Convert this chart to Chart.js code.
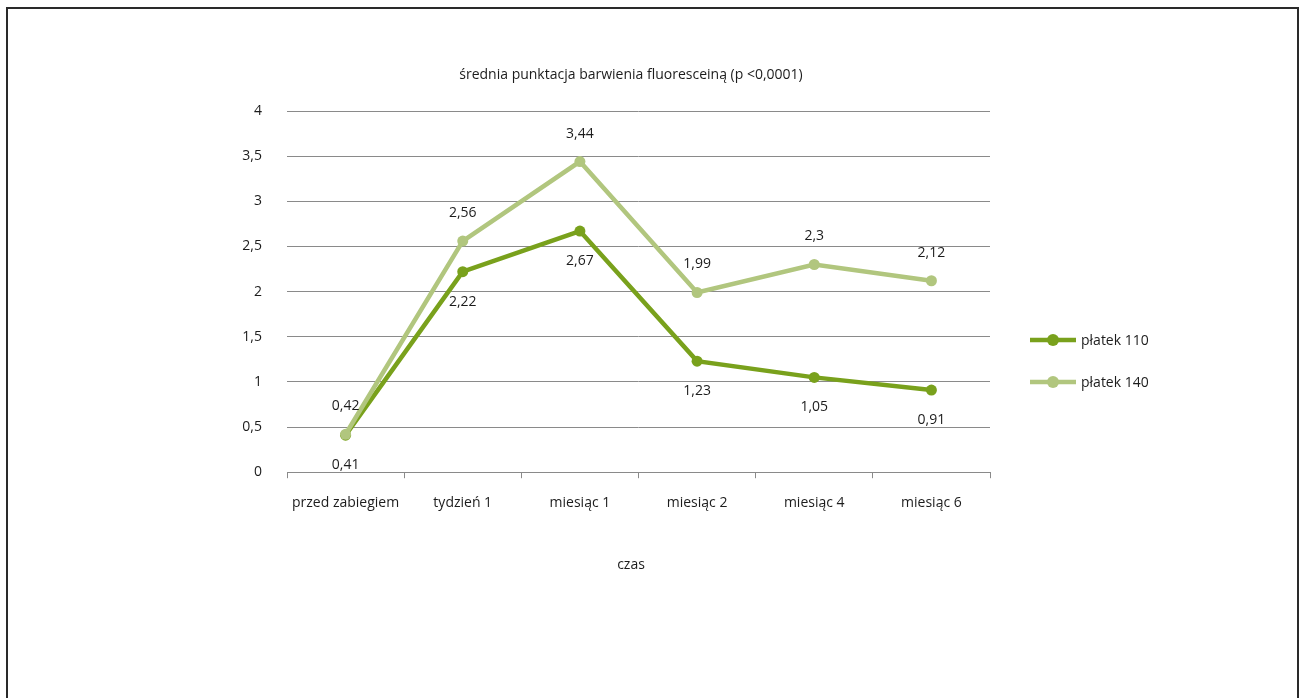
<!DOCTYPE html>
<html lang="pl">
<head>
<meta charset="utf-8">
<title>Punktacja barwienia fluoresceiną</title>
<script src="https://cdn.jsdelivr.net/npm/chart.js@4/dist/chart.umd.min.js"></script>
<style>
  html, body { margin: 0; padding: 0; background: #fff; }
  #wrap { position: relative; width: 1301px; height: 698px; }
</style>
</head>
<body>
<div id="wrap"><canvas id="fluoChart" width="1301" height="698"></canvas></div>
<script>
// dane
const categories = ["przed zabiegiem", "tydzień 1", "miesiąc 1", "miesiąc 2", "miesiąc 4", "miesiąc 6"];
const platek110 = [0.41, 2.22, 2.67, 1.23, 1.05, 0.91];
const platek140 = [0.42, 2.56, 3.44, 1.99, 2.3, 2.12];
const seriesNames = ["płatek 110", "płatek 140"];
const yTicks = [0, 0.5, 1, 1.5, 2, 2.5, 3, 3.5, 4];
const chartTitle = "średnia punktacja barwienia fluoresceiną (p <0,0001)";
const xTitle = "czas";

const darkGreen = "#79a11c";
const lightGreen = "#b1c67e";
const textColor = "#1c1c1c";
const fontFamily = "'Open Sans', 'DejaVu Sans', sans-serif";

function fmt(v) {
    return String(v).replace(".", ",");
}

// tytuły, wartości nad/pod punktami, legenda po prawej i ramka
const extras = {
    id: "extras",
    afterDatasetsDraw(chart) {
        let ctx = chart.ctx;
        ctx.save();
        ctx.font = "14px " + fontFamily;
        ctx.fillStyle = textColor;
        ctx.textAlign = "center";
        ctx.textBaseline = "middle";

        ctx.fillText(chartTitle, 631, 75);
        ctx.fillText(xTitle, 631, 565);

        chart.data.datasets.forEach((ds, i) => {
            let meta = chart.getDatasetMeta(i);
            meta.data.forEach((pt, j) => {
                let dy = ds.labelPos == "above" ? -28 : 30;
                ctx.fillText(fmt(ds.data[j]), pt.x, pt.y + dy);
            });
        });

        // legenda
        let lx = 1030, ly = 340;
        chart.data.datasets.forEach((ds, i) => {
            let y = ly + i * 42;
            ctx.strokeStyle = ds.borderColor;
            ctx.lineWidth = ds.borderWidth;
            ctx.beginPath();
            ctx.moveTo(lx, y);
            ctx.lineTo(lx + 46, y);
            ctx.stroke();
            ctx.fillStyle = ds.pointBackgroundColor;
            ctx.beginPath();
            ctx.arc(lx + 23, y, 6, 0, Math.PI * 2);
            ctx.fill();
            ctx.fillStyle = textColor;
            ctx.textAlign = "left";
            ctx.fillText(ds.label, lx + 51, y + 1);
        });

        // ramka
        ctx.strokeStyle = "#2a2a2a";
        ctx.lineWidth = 2;
        ctx.strokeRect(7, 8, 1291, 700);
        ctx.restore();
    }
};

let ctx = document.getElementById("fluoChart").getContext("2d");

new Chart(ctx, {
    type: "line",
    data: {
        labels: categories,
        datasets: [{
            label: seriesNames[0],
            data: platek110,
            labelPos: "below",
            borderColor: darkGreen,
            backgroundColor: darkGreen,
            pointBackgroundColor: darkGreen,
            pointBorderColor: darkGreen,
            borderWidth: 4.5,
            pointRadius: 5.5,
            pointBorderWidth: 0,
            tension: 0,
            order: 1
        }, {
            label: seriesNames[1],
            data: platek140,
            labelPos: "above",
            borderColor: lightGreen,
            backgroundColor: lightGreen,
            pointBackgroundColor: lightGreen,
            pointBorderColor: lightGreen,
            borderWidth: 4.5,
            pointRadius: 5.5,
            pointBorderWidth: 0,
            tension: 0,
            order: 0
        }]
    },
    options: {
        responsive: false,
        animation: false,
        layout: {
            padding: { left: 200, right: 311, top: 111, bottom: 171 }
        },
        font: { family: fontFamily, size: 14 },
        plugins: {
            legend: { display: false },
            tooltip: { enabled: false },
            title: { display: false }
        },
        scales: {
            x: {
                offset: true,
                grid: {
                    offset: true,
                    drawOnChartArea: false,
                    drawTicks: true,
                    tickLength: 6,
                    color: "#8a8a8a"
                },
                border: { display: true, color: "#8a8a8a", width: 1 },
                ticks: {
                    color: textColor,
                    font: { family: fontFamily, size: 14 },
                    padding: 16,
                    maxRotation: 0
                }
            },
            y: {
                min: 0,
                max: 4,
                afterBuildTicks: (scale) => {
                    scale.ticks = yTicks.map(v => ({ value: v }));
                },
                afterFit: (scale) => {
                    scale.width = 87;
                },
                grid: {
                    drawTicks: false,
                    color: "#8a8a8a",
                    lineWidth: 1
                },
                border: { display: false },
                ticks: {
                    color: textColor,
                    font: { family: fontFamily, size: 14 },
                    padding: 25,
                    callback: (v) => fmt(v)
                }
            }
        }
    },
    plugins: [extras]
});
</script>
</body>
</html>
